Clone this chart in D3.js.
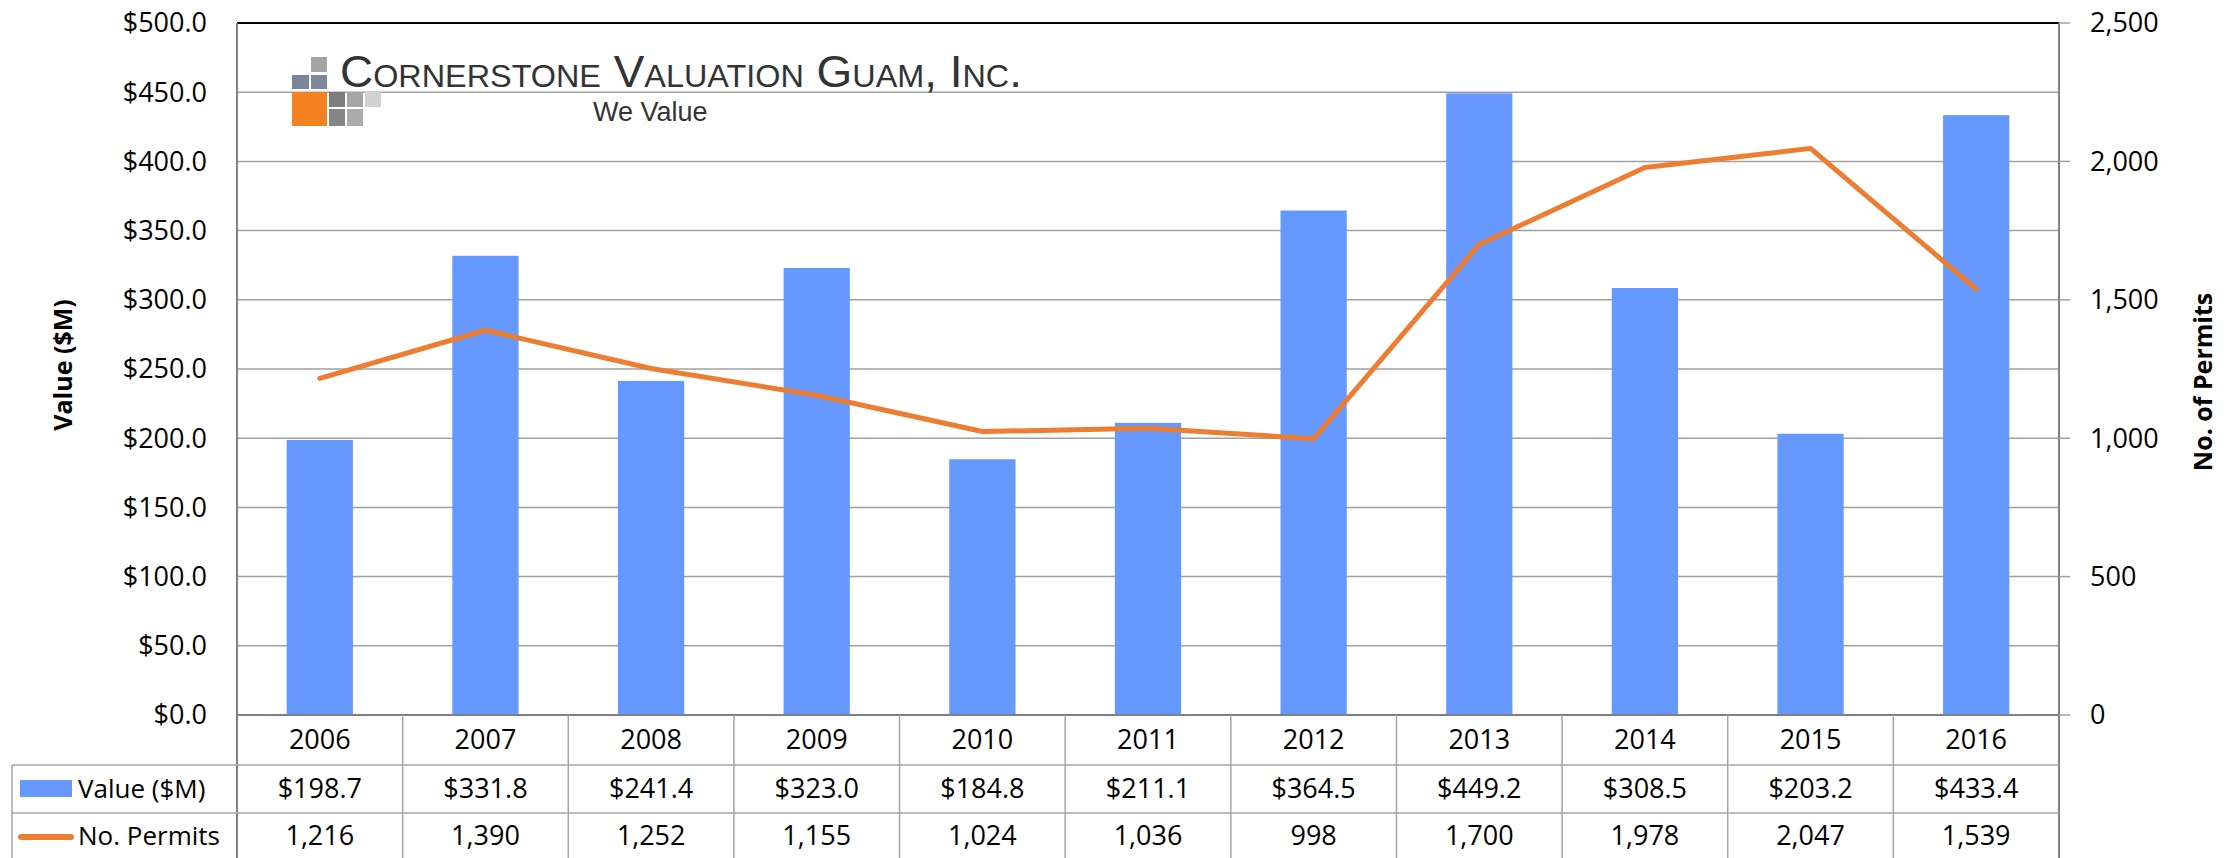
<!DOCTYPE html>
<html>
<head>
<meta charset="utf-8">
<script src="https://d3js.org/d3.v7.min.js"></script>
<style>
  body { margin: 0; background: #fff; }
  svg text { font-family: "Open Sans", sans-serif; fill: #000; }
</style>
</head>
<body>
<svg id="chart" width="2237" height="858"></svg>
<script>
const years = ['2006', '2007', '2008', '2009', '2010', '2011', '2012', '2013', '2014', '2015', '2016']
const values = [198.7, 331.8, 241.4, 323.0, 184.8, 211.1, 364.5, 449.2, 308.5, 203.2, 433.4]
const permits = [1216, 1390, 1252, 1155, 1024, 1036, 998, 1700, 1978, 2047, 1539]
const leftTicks = [0, 50, 100, 150, 200, 250, 300, 350, 400, 450, 500]
const rightTicks = [0, 500, 1000, 1500, 2000, 2500]

const svg = d3.select('#chart')
const plotL = 237, plotR = 2059, plotT = 23, plotB = 715
const tableLeft = 12, row1 = 765, row2 = 813, tableBottom = 858

const x = d3.scaleBand().domain(years).range([plotL, plotR])
const yL = d3.scaleLinear().domain([0, 500]).range([plotB, plotT])
const yR = d3.scaleLinear().domain([0, 2500]).range([plotB, plotT])
const bw = x.bandwidth()

// gridlines
svg.append('g').selectAll('line')
  .data(leftTicks.filter(d => d > 0 && d < 500))
  .enter().append('line')
  .attr('x1', plotL).attr('x2', plotR)
  .attr('y1', d => yL(d)).attr('y2', d => yL(d))
  .attr('stroke', '#a0a0a0').attr('stroke-width', 1.5)

// logo
const logo = svg.append('g')
const sq = [
  [311, 57, 16, 15, '#a3a3a3'],
  [292, 75, 17, 14, '#78879a'], [311, 75, 16, 14, '#7c8a9a'],
  [292, 92, 35, 34, '#f58220'],
  [329, 92, 16, 15, '#7d7d7d'], [347, 92, 16, 15, '#a5a5a5'], [365, 92, 16, 15, '#d2d2d2'],
  [329, 109, 16, 17, '#858585'], [347, 109, 16, 17, '#ababab']
]
logo.selectAll('rect').data(sq).enter().append('rect')
  .attr('x', d => d[0]).attr('y', d => d[1])
  .attr('width', d => d[2]).attr('height', d => d[3])
  .attr('fill', d => d[4])
logo.append('text')
  .attr('x', 340).attr('y', 87)
  .attr('font-size', 44)
  .attr('textLength', 682).attr('lengthAdjust', 'spacingAndGlyphs')
  .style('font-family', '"Liberation Sans", sans-serif')
  .style('font-variant', 'small-caps')
  .style('fill', '#333')
  .text('Cornerstone Valuation Guam, Inc.')
logo.append('text')
  .attr('x', 593).attr('y', 121)
  .attr('font-size', 27)
  .style('font-family', '"Liberation Sans", sans-serif')
  .style('fill', '#333')
  .text('We Value')

// bars
svg.append('g').selectAll('rect')
  .data(years)
  .enter().append('rect')
  .attr('x', d => x(d) + bw * 0.3)
  .attr('width', bw * 0.4)
  .attr('y', (d, i) => yL(values[i]))
  .attr('height', (d, i) => plotB - yL(values[i]))
  .attr('fill', '#6699ff')

// line
const line = d3.line()
  .x((d, i) => x(years[i]) + bw / 2)
  .y(d => yR(d))
svg.append('path')
  .datum(permits)
  .attr('d', line)
  .attr('fill', 'none')
  .attr('stroke', '#ed7d31')
  .attr('stroke-width', 5)
  .attr('stroke-linejoin', 'round')
  .attr('stroke-linecap', 'round')

// frame
svg.append('line').attr('x1', plotL).attr('x2', plotR).attr('y1', plotT).attr('y2', plotT)
  .attr('stroke', '#000').attr('stroke-width', 2)
svg.append('line').attr('x1', plotL).attr('x2', plotR).attr('y1', plotB).attr('y2', plotB)
  .attr('stroke', '#808080').attr('stroke-width', 2)
svg.append('line').attr('x1', plotL).attr('x2', plotL).attr('y1', plotT).attr('y2', tableBottom)
  .attr('stroke', '#808080').attr('stroke-width', 2)
svg.append('line').attr('x1', plotR).attr('x2', plotR).attr('y1', plotT).attr('y2', tableBottom)
  .attr('stroke', '#808080').attr('stroke-width', 2)

// right tick marks
svg.append('g').selectAll('line')
  .data(rightTicks)
  .enter().append('line')
  .attr('x1', plotR).attr('x2', plotR + 11)
  .attr('y1', d => yR(d)).attr('y2', d => yR(d))
  .attr('stroke', '#a0a0a0').attr('stroke-width', 1.5)

// axis labels
svg.append('g').selectAll('text')
  .data(leftTicks)
  .enter().append('text')
  .attr('x', 207).attr('y', d => yL(d))
  .attr('dy', '0.35em')
  .attr('text-anchor', 'end')
  .attr('font-size', 27)
  .text(d => '$' + d3.format('.1f')(d))

svg.append('g').selectAll('text')
  .data(rightTicks)
  .enter().append('text')
  .attr('x', 2090).attr('y', d => yR(d))
  .attr('dy', '0.35em')
  .attr('font-size', 27)
  .text(d => d3.format(',')(d))

svg.append('text')
  .attr('transform', 'translate(63,365) rotate(-90)')
  .attr('text-anchor', 'middle').attr('dy', '0.35em')
  .attr('font-size', 25).attr('font-weight', 'bold')
  .text('Value ($M)')

svg.append('text')
  .attr('transform', 'translate(2203,382) rotate(-90)')
  .attr('text-anchor', 'middle').attr('dy', '0.35em')
  .attr('font-size', 25).attr('font-weight', 'bold')
  .text('No. of Permits')

// data table
const tg = svg.append('g')
tg.selectAll('.vsep')
  .data(years.slice(1))
  .enter().append('line')
  .attr('x1', d => x(d)).attr('x2', d => x(d))
  .attr('y1', plotB).attr('y2', tableBottom)
  .attr('stroke', '#a6a6a6').attr('stroke-width', 1.5)
;[row1, row2].forEach(yy => {
  tg.append('line').attr('x1', tableLeft).attr('x2', plotR).attr('y1', yy).attr('y2', yy)
    .attr('stroke', '#a6a6a6').attr('stroke-width', 1.5)
})
tg.append('line').attr('x1', tableLeft).attr('x2', tableLeft).attr('y1', row1).attr('y2', tableBottom)
  .attr('stroke', '#a6a6a6').attr('stroke-width', 1.5)

const rowY = [740, 789, 836]
tg.selectAll('.yr').data(years).enter().append('text')
  .attr('x', d => x(d) + bw / 2).attr('y', rowY[0]).attr('dy', '0.35em')
  .attr('text-anchor', 'middle').attr('font-size', 27)
  .text(d => d)
tg.selectAll('.val').data(values).enter().append('text')
  .attr('x', (d, i) => x(years[i]) + bw / 2).attr('y', rowY[1]).attr('dy', '0.35em')
  .attr('text-anchor', 'middle').attr('font-size', 27)
  .text(d => '$' + d3.format('.1f')(d))
tg.selectAll('.perm').data(permits).enter().append('text')
  .attr('x', (d, i) => x(years[i]) + bw / 2).attr('y', rowY[2]).attr('dy', '0.35em')
  .attr('text-anchor', 'middle').attr('font-size', 27)
  .text(d => d3.format(',')(d))

// legend keys in table
tg.append('rect').attr('x', 20).attr('y', 780).attr('width', 52).attr('height', 17).attr('fill', '#6699ff')
tg.append('text').attr('x', 78).attr('y', rowY[1]).attr('dy', '0.35em').attr('font-size', 26).text('Value ($M)')
tg.append('line').attr('x1', 21).attr('x2', 71).attr('y1', 837).attr('y2', 837)
  .attr('stroke', '#ed7d31').attr('stroke-width', 6).attr('stroke-linecap', 'round')
tg.append('text').attr('x', 78).attr('y', rowY[2]).attr('dy', '0.35em').attr('font-size', 26).text('No. Permits')
</script>
</body>
</html>
